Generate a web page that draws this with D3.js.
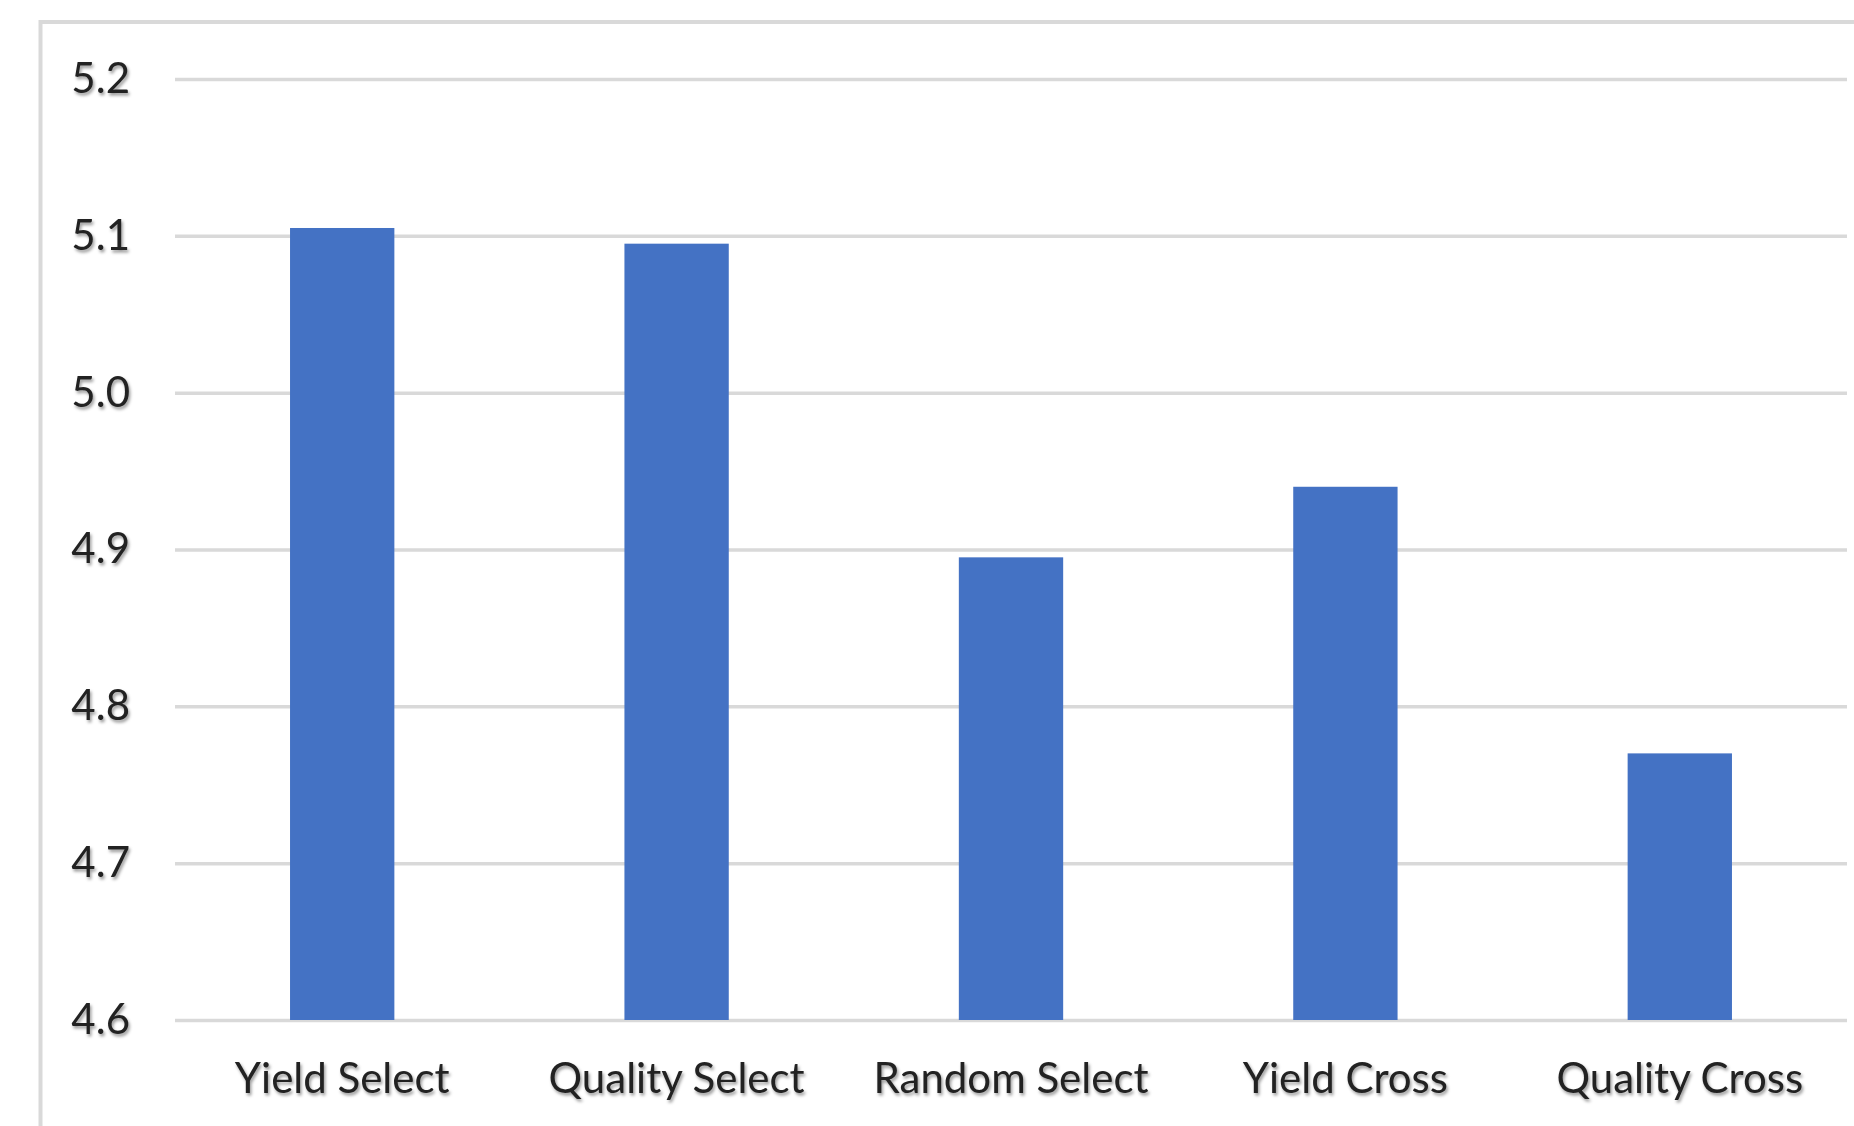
<!DOCTYPE html>
<html>
<head>
<meta charset="utf-8">
<script src="https://cdn.jsdelivr.net/npm/d3@7"></script>
<style>
  html, body { margin: 0; padding: 0; background: #fff; }
  svg { display: block; }
  text { font-family: Lato, "Open Sans", "Liberation Sans", sans-serif; fill: #222; }
</style>
</head>
<body>
<svg id="chart" width="1854" height="1126"></svg>
<script>
// Mean scores per selection method
const categories = ["Yield Select", "Quality Select", "Random Select", "Yield Cross", "Quality Cross"];
const values = [5.105, 5.095, 4.895, 4.94, 4.77];
const yTicks = [4.6, 4.7, 4.8, 4.9, 5.0, 5.1, 5.2];

const W = 1854, H = 1126;
const margin = { left: 175, right: 7, top: 79, bottom: 106 };
const innerW = W - margin.left - margin.right;
const innerH = H - margin.top - margin.bottom;

const svg = d3.select("#chart");

// soft shadow under the text labels
const defs = svg.append("defs");
const f = defs.append("filter").attr("id", "txtShadow")
  .attr("x", "-10%").attr("y", "-20%").attr("width", "120%").attr("height", "150%");
f.append("feDropShadow").attr("dx", 1.5).attr("dy", 2.5)
  .attr("stdDeviation", 1.6).attr("flood-color", "#000").attr("flood-opacity", 0.4);

// outer chart frame
svg.append("rect")
  .attr("x", 40.5).attr("y", 22)
  .attr("width", W + 50).attr("height", H + 50)
  .attr("fill", "#fff").attr("stroke", "#d9d9d9").attr("stroke-width", 4);

const g = svg.append("g").attr("transform", `translate(${margin.left},${margin.top})`);

const x = d3.scaleBand().domain(categories).range([0, innerW]).paddingInner(0.688).paddingOuter(0.344);
const y = d3.scaleLinear().domain([4.6, 5.2]).range([innerH, 0]);

// horizontal gridlines
const yAxis = d3.axisLeft(y).tickValues(yTicks).tickSize(-innerW).tickPadding(45)
  .tickFormat(d3.format(".1f"));
const ya = g.append("g").call(yAxis);
ya.select(".domain").remove();
ya.selectAll(".tick line").attr("stroke", "#d9d9d9").attr("stroke-width", 3.5);
ya.selectAll(".tick text")
  .attr("font-size", 42).attr("fill", "#222").attr("dy", "0.32em")
  .style("font-family", "Lato, 'Open Sans', sans-serif")
  .attr("filter", "url(#txtShadow)");

// bars
g.selectAll("rect.bar").data(values).join("rect")
  .attr("class", "bar")
  .attr("x", (d, i) => x(categories[i]))
  .attr("width", x.bandwidth())
  .attr("y", d => y(d))
  .attr("height", d => innerH - y(d))
  .attr("fill", "#4472c4");

// category labels
const xAxis = d3.axisBottom(x).tickSize(0).tickPadding(43);
const xa = g.append("g").attr("transform", `translate(0,${innerH})`).call(xAxis);
xa.select(".domain").remove();
xa.selectAll(".tick text")
  .attr("font-size", 42).attr("fill", "#222")
  .style("font-family", "Lato, 'Open Sans', sans-serif")
  .attr("filter", "url(#txtShadow)");
</script>
</body>
</html>
